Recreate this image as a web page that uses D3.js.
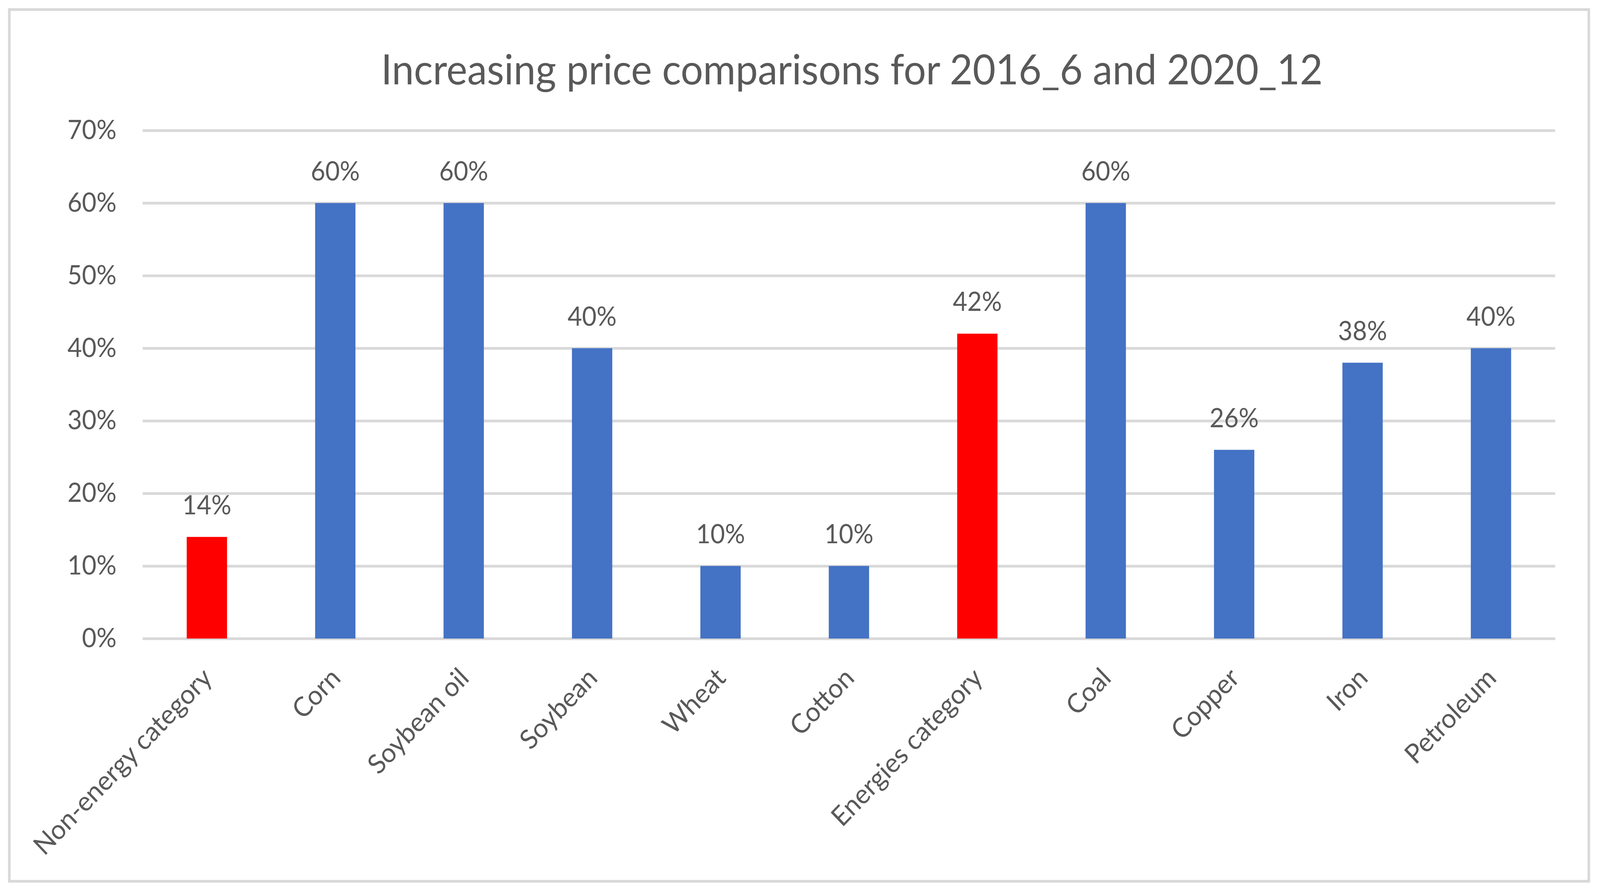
<!DOCTYPE html>
<html>
<head>
<meta charset="utf-8">
<script src="https://cdn.jsdelivr.net/npm/d3@7"></script>
<style>
  html, body { margin: 0; padding: 0; background: #fff; overflow: hidden; }
  svg { display: block; }
  text { font-family: Lato, "Open Sans", sans-serif; fill: #595959; }
</style>
</head>
<body>
<div id="chart"></div>
<script>
// Data
const categories = ["Non-energy category", "Corn", "Soybean oil", "Soybean", "Wheat",
  "Cotton", "Energies category", "Coal", "Copper", "Iron", "Petroleum"];
const values = [0.14, 0.60, 0.60, 0.40, 0.10, 0.10, 0.42, 0.60, 0.26, 0.38, 0.40];
const highlighted = ["Non-energy category", "Energies category"];
const yTicks = [0, 0.1, 0.2, 0.3, 0.4, 0.5, 0.6, 0.7];
const title = "Increasing price comparisons for 2016_6 and 2020_12";

const W = 4284, H = 2284;
const margin = { top: 334, bottom: H - 1635, left: 382, right: W - 4164 };
const width = W - margin.left - margin.right;
const height = H - margin.top - margin.bottom;

// scale the drawing to whatever the viewport is
const svg = d3.select("#chart")
  .append("svg")
  .attr("viewBox", `0 0 ${W} ${H}`)
  .attr("preserveAspectRatio", "none")
  .style("width", "100vw")
  .style("height", "100vh");

// chart border
svg.append("rect")
  .attr("x", 25).attr("y", 24.5)
  .attr("width", 4229).attr("height", 2232)
  .attr("fill", "#fff")
  .attr("stroke", "#d9d9d9")
  .attr("stroke-width", 7);

svg.append("text")
  .attr("x", 2281).attr("y", 216)
  .attr("text-anchor", "middle")
  .attr("font-size", 106)
  .text(title);

const chart = svg.append("g")
  .attr("transform", `translate(${margin.left},${margin.top})`);

const xScale = d3.scaleBand()
  .domain(categories)
  .range([0, width])
  .paddingInner(0.686)
  .paddingOuter(0.343);

const yScale = d3.scaleLinear()
  .domain([0, 0.7])
  .range([height, 0]);

// gridlines + y labels
const yAxis = chart.append("g")
  .call(d3.axisLeft(yScale)
    .tickValues(yTicks)
    .tickSize(-width)
    .tickPadding(70)
    .tickFormat(d3.format(".0%")));
yAxis.select(".domain").remove();
yAxis.selectAll("line")
  .attr("stroke", "#d9d9d9")
  .attr("stroke-width", 7);
yAxis.selectAll("text")
  .attr("font-size", 67)
  .attr("fill", "#595959")
  .style("font-family", "Lato, sans-serif");

// bars
chart.selectAll("rect.bar")
  .data(categories)
  .enter()
  .append("rect")
  .attr("class", "bar")
  .attr("x", d => xScale(d))
  .attr("width", xScale.bandwidth())
  .attr("y", (d, i) => yScale(values[i]))
  .attr("height", (d, i) => height - yScale(values[i]))
  .attr("fill", d => highlighted.includes(d) ? "#ff0000" : "#4472c4");

// value labels
chart.selectAll("text.val")
  .data(categories)
  .enter()
  .append("text")
  .attr("class", "val")
  .attr("x", d => xScale(d) + xScale.bandwidth() / 2)
  .attr("y", (d, i) => yScale(values[i]) - 58)
  .attr("text-anchor", "middle")
  .attr("font-size", 67)
  .text((d, i) => d3.format(".0%")(values[i]));

// category labels, rotated
chart.selectAll("text.cat")
  .data(categories)
  .enter()
  .append("text")
  .attr("class", "cat")
  .attr("text-anchor", "end")
  .attr("font-size", 69)
  .attr("transform", d => `translate(${xScale(d) + xScale.bandwidth() / 2 + 18},${height + 105}) rotate(-45)`)
  .text(d => d);
</script>
</body>
</html>
